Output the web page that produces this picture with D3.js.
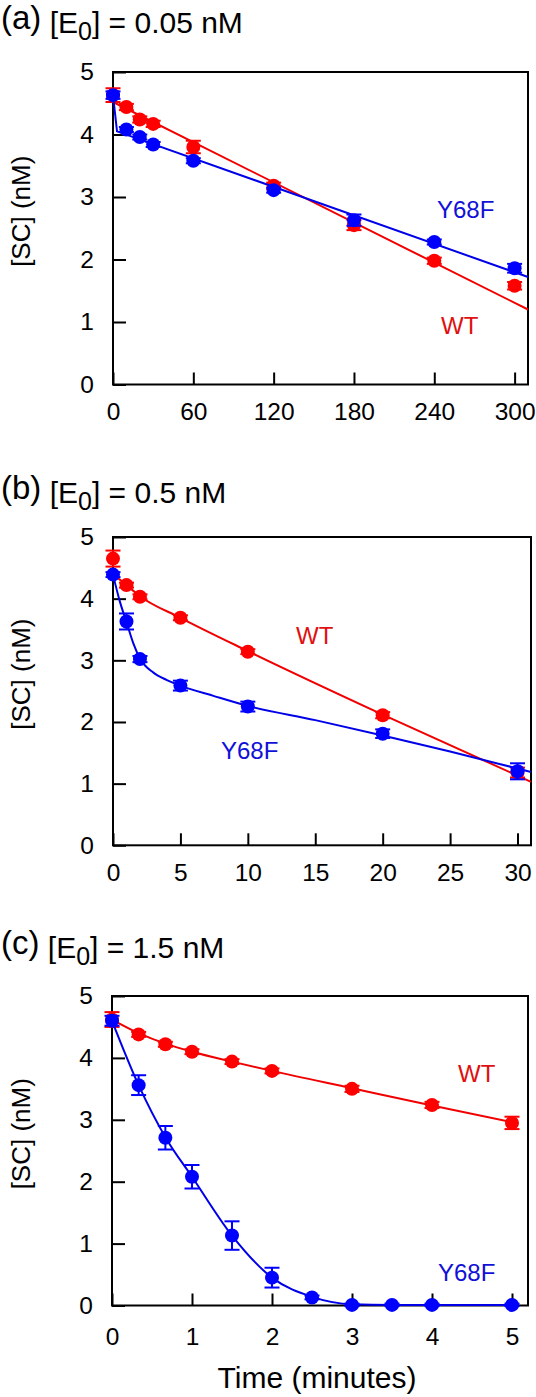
<!DOCTYPE html>
<html><head><meta charset="utf-8">
<script src="https://cdn.jsdelivr.net/npm/d3@7"></script>
<style>
body{margin:0;background:#fff}
svg{display:block}
text{font-family:"Liberation Sans",Arial,Helvetica,sans-serif}
</style>
</head><body>
<svg id="chart" width="536" height="1397"></svg>
<script>
// ---------- Panel (a) [E0] = 0.05 nM ----------
const timeA = [0, 10, 20, 30, 60, 120, 180, 240, 300];
const wtA = [4.63, 4.44, 4.24, 4.17, 3.80, 3.18, 2.55, 1.98, 1.58];
const wtErrA = [0.11, 0.05, 0.05, 0.05, 0.10, 0.05, 0.08, 0.05, 0.06];
const y68fA = [4.63, 4.08, 3.96, 3.84, 3.58, 3.11, 2.63, 2.28, 1.86];
const y68fErrA = [0.06, 0.04, 0.04, 0.04, 0.04, 0.04, 0.09, 0.04, 0.07];
const fitTimeWtA = [0, 310];
const fitWtA = [4.52, 1.20];
const fitTimeY68fA = [0, 3, 310];
const fitY68fA = [4.63, 4.05, 1.72];
const xTicksA = [0, 60, 120, 180, 240, 300];

// ---------- Panel (b) [E0] = 0.5 nM ----------
const timeB = [0, 1, 2, 5, 10, 20, 30];
const wtB = [4.65, 4.22, 4.03, 3.69, 3.14, 2.11, 1.18];
const wtErrB = [0.13, 0.04, 0.04, 0.04, 0.04, 0.05, 0.08];
const y68fB = [4.39, 3.63, 3.02, 2.59, 2.25, 1.81, 1.20];
const y68fErrB = [0.04, 0.13, 0.05, 0.08, 0.08, 0.07, 0.13];
const fitTimeWtB = [0, 1, 2, 5, 10, 20, 31];
const fitWtB = [4.40, 4.22, 4.04, 3.69, 3.15, 2.12, 1.03];
const fitTimeY68fB = [0, 0.5, 1, 1.5, 2, 3, 4, 5, 7.5, 10, 15, 20, 25, 31];
const fitY68fB = [4.39, 3.96, 3.62, 3.28, 3.03, 2.80, 2.68, 2.59, 2.42, 2.26, 2.03, 1.78, 1.52, 1.19];
const xTicksB = [0, 5, 10, 15, 20, 25, 30];

// ---------- Panel (c) [E0] = 1.5 nM ----------
const timeWtC = [0, 0.333, 0.667, 1, 1.5, 2, 3, 4, 5];
const wtC = [4.62, 4.38, 4.22, 4.10, 3.94, 3.79, 3.50, 3.24, 2.95];
const wtErrC = [0.12, 0.04, 0.04, 0.04, 0.04, 0.04, 0.05, 0.05, 0.10];
const timeY68fC = [0, 0.333, 0.667, 1, 1.5, 2, 2.5, 3, 3.5, 4, 5];
const y68fC = [4.60, 3.56, 2.71, 2.08, 1.13, 0.45, 0.13, 0.01, 0.01, 0.01, 0.01];
const y68fErrC = [0.08, 0.16, 0.19, 0.19, 0.23, 0.16, 0.03, 0.02, 0.02, 0.02, 0.02];
const fitTimeWtC = [0, 0.333, 0.667, 1, 1.5, 2, 3, 4, 5];
const fitWtC = [4.62, 4.40, 4.23, 4.10, 3.94, 3.79, 3.51, 3.23, 2.96];
const fitTimeY68fC = [0, 0.333, 0.667, 1, 1.5, 2, 2.5, 3, 3.5, 4, 5];
const fitY68fC = [4.60, 3.56, 2.72, 2.08, 1.13, 0.45, 0.14, 0.02, 0.01, 0.01, 0.01];
const xTicksC = [0, 1, 2, 3, 4, 5];

const yTicks = [0, 1, 2, 3, 4, 5];
const seriesNames = ["WT", "Y68F"];
const panelLetters = ["(a)", "(b)", "(c)"];
const concentrations = ["0.05", "0.5", "1.5"];

const RED = "#ff0000", BLUE = "#0000ff";
const RED_LINE = "#f00000", BLUE_LINE = "#0000e8";
const RED_TEXT = "#e01010", BLUE_TEXT = "#1010d8";
const TICK_FONT = 24.5;

const svg = d3.select("#chart");
const zip = (a, b) => a.map((v, i) => [v, b[i]]);

const panels = [
  { letter: panelLetters[0], conc: concentrations[0], titleY: 33,
    left: 113, right: 528, top: 72, bottom: 384.5, xMax: 310, xTicks: xTicksA, xPad: 18,
    wt: { t: timeA, v: wtA, e: wtErrA, ft: fitTimeWtA, fv: fitWtA, label: [441, 334] },
    y68: { t: timeA, v: y68fA, e: y68fErrA, ft: fitTimeY68fA, fv: fitY68fA, label: [437, 218] },
    curve: d3.curveLinear },
  { letter: panelLetters[1], conc: concentrations[1], titleY: 503,
    left: 113, right: 531, top: 537, bottom: 845.3, xMax: 31, xTicks: xTicksB, xPad: 18,
    wt: { t: timeB, v: wtB, e: wtErrB, ft: fitTimeWtB, fv: fitWtB, label: [296, 644] },
    y68: { t: timeB, v: y68fB, e: y68fErrB, ft: fitTimeY68fB, fv: fitY68fB, label: [221, 759] },
    curve: d3.curveMonotoneX },
  { letter: panelLetters[2], conc: concentrations[2], titleY: 958,
    left: 112, right: 528, top: 996, bottom: 1305.5, xMax: 5.2, xTicks: xTicksC, xPad: 22,
    wt: { t: timeWtC, v: wtC, e: wtErrC, ft: fitTimeWtC, fv: fitWtC, label: [458, 1082] },
    y68: { t: timeY68fC, v: y68fC, e: y68fErrC, ft: fitTimeY68fC, fv: fitY68fC, label: [438, 1281] },
    curve: d3.curveMonotoneX }
];

panels.forEach((p) => {
  const x = d3.scaleLinear().domain([0, p.xMax]).range([p.left, p.right]);
  const y = d3.scaleLinear().domain([0, 5]).range([p.bottom, p.top]);

  // title
  const title = svg.append("text").attr("x", 1).attr("y", p.titleY).attr("fill", "#000");
  title.append("tspan").attr("font-size", 33).attr("dy", -4).text(p.letter);
  title.append("tspan").attr("font-size", 30).attr("dy", 4).text(" [E");
  title.append("tspan").attr("font-size", 25).attr("dy", 7).text("0");
  title.append("tspan").attr("font-size", 30).attr("dy", -7).text("] = " + p.conc + " nM");

  // y-axis label
  svg.append("text")
    .attr("transform", `translate(30,${(p.top + p.bottom) / 2 - 17}) rotate(-90)`)
    .attr("text-anchor", "middle").attr("font-size", 26).attr("fill", "#000")
    .text("[SC] (nM)");

  // axes
  const gy = svg.append("g").attr("transform", `translate(${p.left},0)`)
    .call(d3.axisLeft(y).tickValues(yTicks).tickSize(-13).tickPadding(19).tickFormat(d3.format("d")));
  const gx = svg.append("g").attr("transform", `translate(0,${p.bottom})`)
    .call(d3.axisBottom(x).tickValues(p.xTicks).tickSize(-12).tickPadding(p.xPad).tickFormat(d3.format("d")));
  [gy, gx].forEach(g => {
    g.select(".domain").remove();
    g.selectAll(".tick line").attr("stroke", "#000").attr("stroke-width", 2);
    g.selectAll(".tick text").attr("font-size", TICK_FONT).attr("fill", "#000")
      .style("font-family", '"Liberation Sans",Arial,sans-serif');
  });

  // frame
  svg.append("rect").attr("x", p.left).attr("y", p.top)
    .attr("width", p.right - p.left).attr("height", p.bottom - p.top)
    .attr("fill", "none").attr("stroke", "#000").attr("stroke-width", 2);

  const line = d3.line().x(d => x(d[0])).y(d => y(d[1])).curve(p.curve);

  [[p.wt, RED, RED_LINE, RED_TEXT, seriesNames[0]], [p.y68, BLUE, BLUE_LINE, BLUE_TEXT, seriesNames[1]]]
    .forEach(([s, col, lcol, tcol, name]) => {
      svg.append("path").datum(zip(s.ft, s.fv)).attr("d", line)
        .attr("fill", "none").attr("stroke", lcol).attr("stroke-width", 2);
      const pts = s.t.map((t, i) => ({ t, v: s.v[i], e: s.e[i] }));
      const g = svg.append("g");
      pts.forEach(d => {
        const cx = x(d.t), y1 = y(d.v + d.e), y2 = y(d.v - d.e);
        g.append("line").attr("x1", cx).attr("x2", cx).attr("y1", y1).attr("y2", y2)
          .attr("stroke", col).attr("stroke-width", 2);
        [y1, y2].forEach(yy => g.append("line").attr("x1", cx - 7.5).attr("x2", cx + 7.5)
          .attr("y1", yy).attr("y2", yy).attr("stroke", col).attr("stroke-width", 2));
      });
      g.selectAll("circle").data(pts).join("circle")
        .attr("cx", d => x(d.t)).attr("cy", d => y(d.v)).attr("r", 7).attr("fill", col);
      svg.append("text").attr("x", s.label[0]).attr("y", s.label[1])
        .attr("font-size", 24).attr("fill", tcol).text(name);
    });
});

// x-axis title
svg.append("text").attr("x", 317).attr("y", 1388).attr("text-anchor", "middle")
  .attr("font-size", 30).attr("fill", "#000").text("Time (minutes)");
</script>
</body></html>
